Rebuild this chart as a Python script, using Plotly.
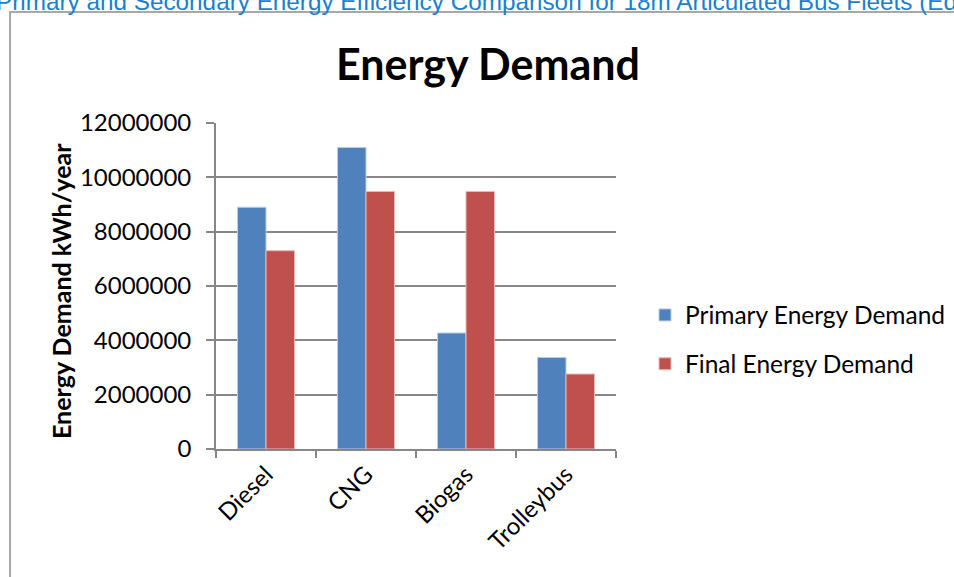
import plotly.graph_objects as go

# Annual energy demand per bus technology (kWh/year)
categories = ["Diesel", "CNG", "Biogas", "Trolleybus"]
primary_demand = [8900000, 11100000, 4270000, 3370000]
final_demand = [7300000, 9480000, 9480000, 2760000]
y_ticks = [0, 2000000, 4000000, 6000000, 8000000, 10000000, 12000000]

W, H = 954, 577
L, R, T, B = 216, 616, 123, 449  # plot area in pixels


def px_x(x):
    return (x - L) / (R - L)


def px_y(y):
    return (B - y) / (B - T)


FONT = "Lato"
GRID = "#878787"

fig = go.Figure()
fig.add_trace(go.Bar(
    x=categories, y=primary_demand, name="Primary Energy Demand",
    marker=dict(color="#4F81BD", line=dict(color="#B9CDE5", width=1)),
    legendgroup="p",
))
fig.add_trace(go.Bar(
    x=categories, y=final_demand, name="Final Energy Demand",
    marker=dict(color="#C0504D", line=dict(color="#E6B9B8", width=1)),
    legendgroup="f",
))

fig.update_layout(
    width=W, height=H,
    margin=dict(l=L, r=W - R, t=T, b=H - B, autoexpand=False),
    paper_bgcolor="white", plot_bgcolor="white",
    barmode="group", bargap=0.43, bargroupgap=0,
    font=dict(family=FONT, size=24, color="black"),
    showlegend=True,
    legend=dict(
        x=px_x(645), y=px_y(339.5), xanchor="left", yanchor="middle",
        font=dict(family=FONT, size=24.5, color="black"),
        traceorder="grouped", tracegroupgap=14,
        bgcolor="rgba(0,0,0,0)",
    ),
    xaxis=dict(
        showline=True, linecolor=GRID, linewidth=1.8,
        ticks="outside", ticklen=7, tickcolor=GRID, tickwidth=1.8,
        tickson="boundaries", tickangle=-45,
        tickfont=dict(family=FONT, size=24),
        showgrid=False,
    ),
    yaxis=dict(
        range=[0, 12000000], tickvals=y_ticks,
        tickformat="d",
        showline=True, linecolor=GRID, linewidth=1.8,
        ticks="outside", ticklen=8, tickcolor=GRID, tickwidth=1.8,
        ticklabelstandoff=10,
        showgrid=True, gridcolor=GRID, gridwidth=1.8,
        zeroline=False,
        tickfont=dict(family=FONT, size=24),
    ),
    shapes=[dict(
        type="rect", xref="paper", yref="paper",
        x0=px_x(10), x1=px_x(1000), y0=px_y(620), y1=px_y(12),
        line=dict(color="#8C8C8C", width=1.5), fillcolor="rgba(0,0,0,0)",
        layer="below",
    )],
    annotations=[
        dict(
            text="Primary and Secondary Energy Efficiency Comparison for 18m Articulated Bus Fleets (Ed",
            xref="paper", yref="paper", x=px_x(-6), y=px_y(2),
            xanchor="left", yanchor="middle", showarrow=False,
            font=dict(family="Liberation Sans", size=24.3, color="#1A7FD0"),
        ),
        dict(
            text="<b>Energy Demand</b>",
            xref="paper", yref="paper", x=px_x(488), y=px_y(64),
            xanchor="center", yanchor="middle", showarrow=False,
            font=dict(family=FONT, size=43, color="black"),
        ),
        dict(
            text="<b>Energy Demand kWh/year</b>",
            xref="paper", yref="paper", x=px_x(61), y=px_y(291),
            xanchor="center", yanchor="middle", showarrow=False, textangle=-90,
            font=dict(family=FONT, size=25, color="black"),
        ),
    ],
)

fig.write_html("out.html")
